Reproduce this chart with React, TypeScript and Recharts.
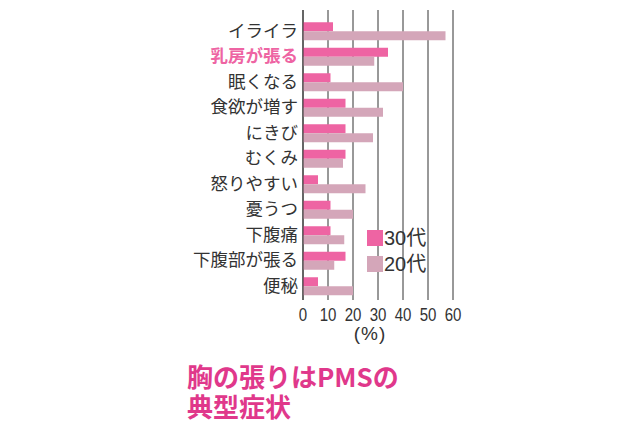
import React from 'react';
import {
  BarChart,
  Bar,
  XAxis,
  YAxis,
  CartesianGrid,
  Label,
} from 'recharts';

const symptoms = ['イライラ', '乳房が張る', '眠くなる', '食欲が増す', 'にきび', 'むくみ', '怒りやすい', '憂うつ', '下腹痛', '下腹部が張る', '便秘'];
const thirties = [12, 34, 11, 17, 17, 17, 6, 11, 11, 17, 6];
const twenties = [57, 28.5, 40, 32, 28, 16, 25, 20, 16.5, 12.5, 20];
const xTicks = [0, 10, 20, 30, 40, 50, 60];
const seriesNames = ['30代', '20代'];
const highlight = '乳房が張る';
const titleLines = ['胸の張りはPMSの', '典型症状'];

const PINK = '#ee64a3';
const MAUVE = '#d4a6b9';
const INK = '#333333';
const TITLE_PINK = '#e0388b';
const seriesColors = [PINK, MAUVE];

const data = symptoms.map((name, i) => ({ name, s30: thirties[i], s20: twenties[i] }));

function SymptomTick(props: any) {
  const { x, y, payload } = props;
  const hot = payload.value === highlight;
  return (
    <text
      x={x}
      y={y}
      dy={6}
      textAnchor="end"
      fontSize={17.5}
      fontFamily="'Noto Sans CJK JP', sans-serif"
      fontWeight={hot ? 700 : 400}
      fill={hot ? PINK : INK}
    >
      {payload.value}
    </text>
  );
}

// the source uses a condensed face for the numbers, so squeeze Liberation Sans a bit
function PercentTick(props: any) {
  const { x, y, payload } = props;
  return (
    <g transform={`translate(${x},${y}) scale(0.86,1)`}>
      <text
        x={0}
        y={0}
        dy={13}
        textAnchor="middle"
        fontSize={17.5}
        fontFamily="'Liberation Sans', sans-serif"
        fill={INK}
      >
        {payload.value}
      </text>
    </g>
  );
}

function AgeLegend() {
  return (
    <div style={{ position: 'absolute', left: 367, top: 230, display: 'flex', flexDirection: 'column', gap: 10 }}>
      {seriesNames.map((name, i) => (
        <div key={name} style={{ display: 'flex', alignItems: 'center', height: 16 }}>
          <span style={{ width: 16, height: 16, background: seriesColors[i], display: 'inline-block' }} />
          <span
            style={{
              marginLeft: 1,
              fontSize: 20,
              lineHeight: '16px',
              color: INK,
              fontFamily: "'Liberation Sans', 'Noto Sans CJK JP', sans-serif",
            }}
          >
            {name}
          </span>
        </div>
      ))}
    </div>
  );
}

export default function App() {
  return (
    <div style={{ position: 'absolute', left: 0, top: 0, width: 630, height: 424, background: '#fff' }}>
      <BarChart
        width={630}
        height={424}
        data={data}
        layout="vertical"
        margin={{ top: 10, right: 177, bottom: 84, left: 0 }}
        barCategoryGap={4.25}
        barGap={0}
      >
        <CartesianGrid horizontal={false} stroke={INK} strokeWidth={1} />
        <XAxis
          type="number"
          domain={[0, 60]}
          ticks={xTicks}
          interval={0}
          axisLine={false}
          tickLine={false}
          tickSize={0}
          tickMargin={8}
          height={40}
          tick={<PercentTick />}
        >
          <Label
            content={(p: any) => {
              const vb = p.viewBox;
              return (
                <text
                  x={vb.x + vb.width / 2 - 8}
                  y={vb.y + 40}
                  textAnchor="middle"
                  fontSize={19}
                  letterSpacing={1}
                  fontFamily="'Liberation Sans', sans-serif"
                  fill={INK}
                >
                  (%)
                </text>
              );
            }}
          />
        </XAxis>
        <YAxis
          type="category"
          dataKey="name"
          width={303}
          axisLine={{ stroke: INK, strokeWidth: 1 }}
          tickLine={false}
          tickSize={0}
          tickMargin={5}
          padding={{ top: 8, bottom: 1.5 }}
          interval={0}
          tick={<SymptomTick />}
        />
        <Bar dataKey="s30" name={seriesNames[0]} fill={PINK} isAnimationActive={false} />
        <Bar dataKey="s20" name={seriesNames[1]} fill={MAUVE} isAnimationActive={false} />
      </BarChart>
      <AgeLegend />
      {titleLines.map((line, i) => (
        <div
          key={line}
          style={{
            position: 'absolute',
            left: 187,
            top: 363 + i * 30,
            height: 26,
            color: TITLE_PINK,
            fontSize: 26,
            lineHeight: '26px',
            fontWeight: 700,
            whiteSpace: 'nowrap',
            fontFamily: "'Noto Sans CJK JP', 'Liberation Sans', sans-serif",
          }}
        >
          {line}
        </div>
      ))}
    </div>
  );
}
